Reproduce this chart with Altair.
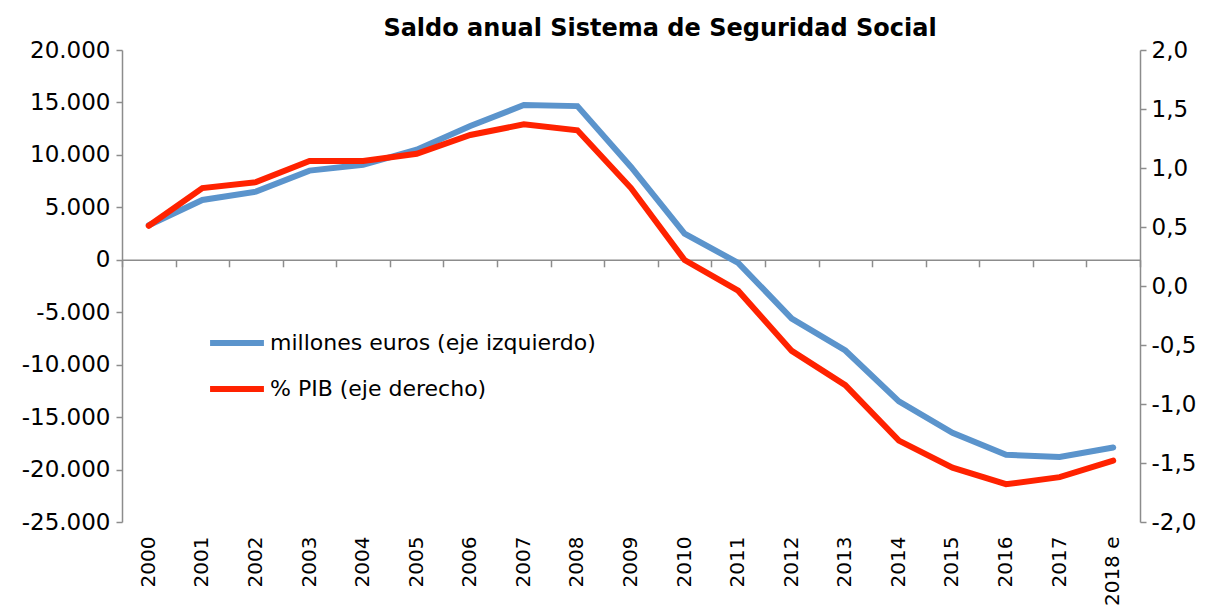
import altair as alt
import pandas as pd

years = ["2000", "2001", "2002", "2003", "2004", "2005", "2006", "2007", "2008", "2009",
         "2010", "2011", "2012", "2013", "2014", "2015", "2016", "2017", "2018 e"]
millones = [3300, 5700, 6500, 8500, 9050, 10500, 12750, 14750, 14650, 8850,
            2500, -300, -5600, -8650, -13500, -16500, -18600, -18800, -17900]
pib = [0.51, 0.83, 0.88, 1.06, 1.06, 1.12, 1.28, 1.37, 1.32, 0.83,
       0.22, -0.04, -0.55, -0.84, -1.31, -1.54, -1.68, -1.62, -1.48]

s1 = "millones euros (eje izquierdo)"
s2 = "% PIB (eje derecho)"
blue = "#5B94CC"
red = "#FF2200"
FONT = "DejaVu Sans"
GRAY = "#8C8C8C"

df = pd.DataFrame({"year": years, "millones": millones, "pib": pib})

W, H = 1018, 472
left_dom = [-25000, 20000]
zero_offset = -(H - H * (left_dom[1] / (left_dom[1] - left_dom[0])))

color = alt.Color(
    "serie:N",
    scale=alt.Scale(domain=[s1, s2], range=[blue, red]),
    legend=alt.Legend(
        title=None, orient="none", legendX=85, legendY=263,
        symbolType="stroke", symbolSize=2900, symbolStrokeWidth=6,
        labelFont=FONT, labelFontSize=22, labelColor="#000000",
        labelOffset=3, rowPadding=4, labelLimit=600,
    ),
)

x_labels = alt.X(
    "year:N", sort=years, title=None,
    scale=alt.Scale(paddingInner=0, paddingOuter=0),
    axis=alt.Axis(orient="bottom", domain=False, ticks=False, labelAngle=270,
                  labelAlign="right", labelBaseline="middle", labelPadding=14,
                  labelFont=FONT, labelFontSize=20, labelColor="#000000"),
)
x_zero = alt.X(
    "year:N", sort=years, title=None,
    scale=alt.Scale(paddingInner=0, paddingOuter=0),
    axis=alt.Axis(orient="bottom", offset=zero_offset, labels=False,
                  domain=True, domainColor=GRAY, domainWidth=1.5,
                  ticks=True, tickColor=GRAY, tickWidth=1.5, tickSize=7,
                  tickBand="extent"),
)

line1 = alt.Chart(df).transform_calculate(serie=f"'{s1}'").mark_line(
    strokeWidth=6, strokeCap="round", strokeJoin="miter"
).encode(
    x=x_labels,
    y=alt.Y("millones:Q", title=None,
            scale=alt.Scale(domain=left_dom, nice=False, zero=False),
            axis=alt.Axis(orient="left", values=list(range(-25000, 20001, 5000)),
                          grid=False, domainColor=GRAY, domainWidth=1.5,
                          tickColor=GRAY, tickWidth=1.5, tickSize=6,
                          labelPadding=6, labelFont=FONT, labelFontSize=23,
                          labelColor="#000000",
                          labelExpr="(datum.value < 0 ? '-' : '') + replace(format(abs(datum.value), ',d'), ',', '.')")),
    color=color,
)

line2 = alt.Chart(df).transform_calculate(serie=f"'{s2}'").mark_line(
    strokeWidth=6, strokeCap="round", strokeJoin="miter"
).encode(
    x=x_zero,
    y=alt.Y("pib:Q", title=None,
            scale=alt.Scale(domain=[-2, 2], nice=False, zero=False),
            axis=alt.Axis(orient="right", values=[-2, -1.5, -1, -0.5, 0, 0.5, 1, 1.5, 2],
                          grid=False, domainColor=GRAY, domainWidth=1.5,
                          tickColor=GRAY, tickWidth=1.5, tickSize=6,
                          labelPadding=5, labelFont=FONT, labelFontSize=23,
                          labelColor="#000000",
                          labelExpr="(datum.value < 0 ? '-' : '') + replace(format(abs(datum.value), '.1f'), '.', ',')")),
    color=color,
)

chart = alt.layer(line1, line2).resolve_scale(
    y="independent"
).resolve_axis(
    x="independent", y="independent"
).properties(
    width=W, height=H,
    title=alt.TitleParams("Saldo anual Sistema de Seguridad Social", font=FONT,
                          fontSize=24, fontWeight="bold", color="#000000",
                          anchor="middle", dx=29, offset=-2),
    autosize=alt.AutoSizeParams(type="none"),
    padding={"left": 114, "top": 42, "right": 60, "bottom": 85},
).configure_view(stroke=None)

chart.save("out.html", embed_options={"renderer": "svg", "actions": False})
